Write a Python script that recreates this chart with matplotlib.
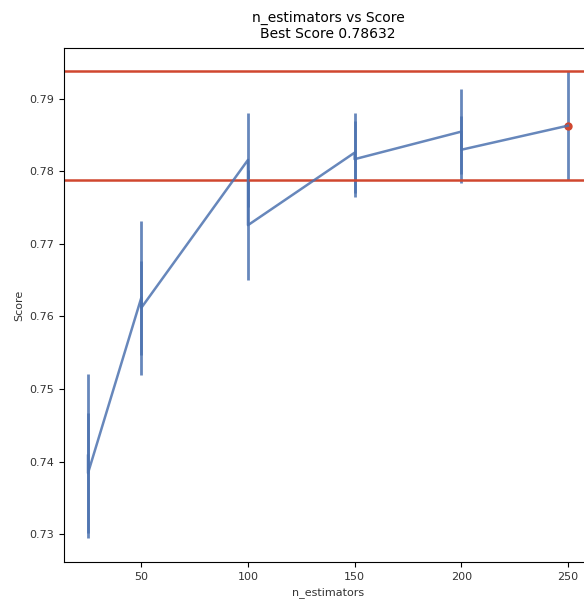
import numpy as np
import matplotlib.pyplot as plt

# grid search results, two runs per n_estimators value
n_estimators = [25, 25, 50, 50, 100, 100, 150, 150, 200, 200, 250]
mean_score = [0.7408, 0.7384, 0.7626, 0.7612, 0.7816, 0.7726, 0.7826, 0.7817, 0.7855, 0.7830, 0.78632]
std_score = [0.0113, 0.0083, 0.0106, 0.0065, 0.0065, 0.0076, 0.0055, 0.0052, 0.0059, 0.0046, 0.00754]

best_score = 0.78632
best_std = 0.00754
best_n = 250

blue = '#4c72b0'
red = '#d0472f'

fig = plt.figure(figsize=(5.84, 6.01), dpi=100)
ax = fig.add_axes([0.1096, 0.0649, 0.904, 0.8552])

ax.errorbar(n_estimators, mean_score, yerr=std_score, color=blue, alpha=0.85,
            linewidth=1.8, elinewidth=2)
ax.axhline(best_score + best_std, color=red, linewidth=1.8)
ax.axhline(best_score - best_std, color=red, linewidth=1.8)
ax.plot(best_n, best_score, 'o', color=red, markersize=5)

ax.set_xlim(13.75, 261.25)
ax.set_ylim(0.72614, 0.79703)
ax.set_xticks([50, 100, 150, 200, 250])
ax.set_yticks(np.arange(0.73, 0.7901, 0.01))
ax.tick_params(labelsize=8, labelcolor='#333333')

ax.set_title('n_estimators vs Score\nBest Score %.5f' % best_score, fontsize=10, pad=7)
ax.set_xlabel('n_estimators', fontsize=8, color='#333333')
ax.set_ylabel('Score', fontsize=8, color='#333333')

fig.savefig('out.png', dpi=100)
